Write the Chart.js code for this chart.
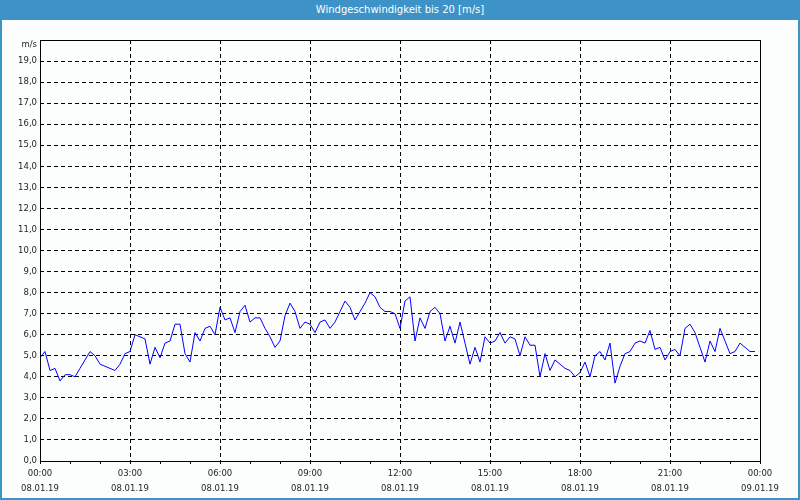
<!DOCTYPE html>
<html>
<head>
<meta charset="utf-8">
<script src="https://cdn.jsdelivr.net/npm/chart.js@4/dist/chart.umd.min.js"></script>
<style>
    body { margin: 0; }
    #wrap { position: relative; width: 800px; height: 500px; background: #fcfdfd; overflow: hidden; }
    #chart { position: absolute; left: 0; top: 0; }
    #titleBar {
        position: absolute; left: 0; top: 0; width: 800px; height: 20px;
        background: #3d93c8; color: #fff; text-align: center;
        font: 10px "DejaVu Sans", sans-serif; line-height: 20px;
    }
    #frame { position: absolute; left: 0; top: 0; width: 800px; height: 500px; box-sizing: border-box; border: 2px solid #3d93c8; pointer-events: none; }
</style>
</head>
<body>
<div id="wrap">
    <canvas id="chart" width="800" height="500"></canvas>
    <div id="titleBar">Windgeschwindigkeit bis 20 [m/s]</div>
    <div id="frame"></div>
</div>
<script>
// Messwerte alle 10 Minuten, 08.01.19 00:00 bis 23:50
const sampleMinutes = 10;
const windSpeed = [
    4.9, 5.2, 4.3, 4.4, 3.8, 4.1, 4.1, 4.0, 4.4, 4.8, 5.2, 5.0,
    4.6, 4.5, 4.4, 4.3, 4.6, 5.1, 5.2, 6.0, 5.9, 5.8, 4.6, 5.4,
    4.9, 5.6, 5.7, 6.5, 6.5, 5.1, 4.7, 6.1, 5.7, 6.3, 6.4, 6.0,
    7.3, 6.7, 6.8, 6.1, 7.1, 7.4, 6.6, 6.8, 6.8, 6.3, 5.9, 5.4,
    5.7, 6.9, 7.5, 7.1, 6.3, 6.6, 6.5, 6.1, 6.6, 6.7, 6.3, 6.6,
    7.1, 7.6, 7.3, 6.7, 7.1, 7.5, 8.0, 7.8, 7.3, 7.1, 7.1, 7.0,
    6.3, 7.6, 7.8, 5.7, 6.8, 6.3, 7.1, 7.3, 7.0, 5.7, 6.4, 5.6,
    6.6, 5.6, 4.6, 5.4, 4.7, 5.9, 5.6, 5.7, 6.1, 5.6, 5.9, 5.8,
    5.0, 5.9, 5.5, 5.5, 4.0, 5.1, 4.3, 4.8, 4.6, 4.4, 4.3, 4.0,
    4.2, 4.7, 4.0, 5.0, 5.2, 4.8, 5.6, 3.7, 4.5, 5.1, 5.2, 5.6,
    5.7, 5.6, 6.2, 5.3, 5.4, 4.8, 5.2, 5.3, 5.0, 6.3, 6.5, 6.1,
    5.4, 4.7, 5.7, 5.2, 6.3, 5.7, 5.1, 5.2, 5.6, 5.4, 5.2, 5.2
];
const timeLabels = ['00:00', '03:00', '06:00', '09:00', '12:00', '15:00', '18:00', '21:00', '00:00'];
const dateLabels = ['08.01.19', '08.01.19', '08.01.19', '08.01.19', '08.01.19', '08.01.19', '08.01.19', '08.01.19', '09.01.19'];
const yUnit = 'm/s';
const yMax = 20;

const points = windSpeed.map((v, i) => ({ x: i * sampleMinutes / 60, y: v }));
const tickFont = { family: '"DejaVu Sans", sans-serif', size: 8.5, lineHeight: '15px' };
const textColor = '#1e1e1e';

// Rahmen um den Plotbereich und Einheit oben links
const framePlugin = {
    id: 'plotFrame',
    afterDraw(chart) {
        const { ctx, chartArea: a } = chart;
        ctx.save();
        ctx.strokeStyle = '#000';
        ctx.lineWidth = 1;
        ctx.strokeRect(a.left + 0.5, a.top + 0.5, a.right - a.left, a.bottom - a.top);
        ctx.fillStyle = textColor;
        ctx.font = '8.5px "DejaVu Sans", sans-serif';
        ctx.textAlign = 'right';
        ctx.textBaseline = 'middle';
        ctx.fillText(yUnit, a.left - 3, a.top + 5);
        ctx.restore();
    }
};

new Chart(document.getElementById('chart'), {
    type: 'line',
    data: {
        datasets: [{
            data: points,
            borderColor: '#0000ff',
            borderWidth: 1,
            pointRadius: 0,
            tension: 0,
            fill: false
        }]
    },
    options: {
        responsive: false,
        animation: false,
        layout: { padding: { top: 40, right: 40, left: 0, bottom: 0 } },
        plugins: {
            legend: { display: false },
            title: { display: false },
            tooltip: { enabled: false }
        },
        scales: {
            x: {
                type: 'linear',
                min: 0,
                max: 24,
                afterFit(scale) { scale.height = 39; },
                border: { display: false, dash: [4, 3] },
                grid: {
                    color: ctx => (ctx.tick && ctx.tick.value % 3 === 0 && ctx.tick.value > 0 && ctx.tick.value < 24) ? '#000' : 'rgba(0,0,0,0)',
                    tickColor: '#000',
                    tickLength: 3,
                    lineWidth: 1
                },
                ticks: {
                    stepSize: 1,
                    autoSkip: false,
                    maxRotation: 0,
                    padding: 2,
                    color: textColor,
                    font: tickFont,
                    callback: value => value % 3 === 0 ? [timeLabels[value / 3], dateLabels[value / 3]] : ''
                }
            },
            y: {
                min: 0,
                max: yMax,
                afterFit(scale) { scale.width = 40; },
                border: { display: false, dash: [4, 3] },
                grid: {
                    color: ctx => (ctx.tick && ctx.tick.value > 0 && ctx.tick.value < yMax) ? '#000' : 'rgba(0,0,0,0)',
                    drawTicks: false,
                    lineWidth: 1
                },
                ticks: {
                    stepSize: 1,
                    autoSkip: false,
                    padding: 3,
                    color: textColor,
                    font: tickFont,
                    callback: value => value === yMax ? '' : value.toFixed(1).replace('.', ',')
                }
            }
        }
    },
    plugins: [framePlugin]
});
</script>
</body>
</html>
